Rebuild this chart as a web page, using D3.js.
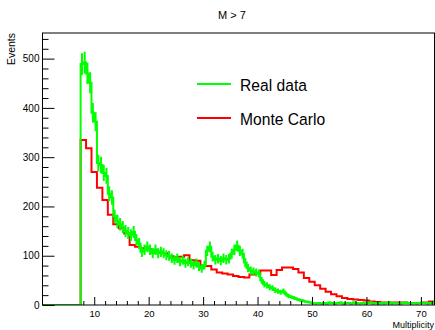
<!DOCTYPE html>
<html>
<head>
<meta charset="utf-8">
<script src="https://cdn.jsdelivr.net/npm/d3@7"></script>
<style>
  html, body { margin: 0; padding: 0; background: #fff; }
  svg { display: block; font-family: "Liberation Sans", Arial, sans-serif; }
</style>
</head>
<body>
<div class="chart-container"></div>
<script>
// Real data: bins of width 0.5 starting at 7.5 (empty below)
const realStart = 7.5;
const realWidth = 0.5;
const realData = [
  489, 492, 470, 451, 390, 372, 288, 284, 268, 262,
  226, 218, 180, 170, 164, 158, 150, 146, 142, 148,
  132, 125, 108, 112, 118, 112, 105, 112, 105, 108,
  105, 101, 100, 95, 91, 95, 88, 91, 85, 88,
  85, 81, 85, 78, 74, 81, 110, 118, 98, 92,
  94, 90, 95, 92, 94, 104, 112, 120, 110, 104,
  86, 75, 70, 68, 66, 64, 50, 42, 40, 36,
  34, 30, 28, 26, 28, 22, 18, 16, 14, 12,
  10, 9, 7, 6, 5, 4, 3, 4, 3, 4,
  3, 5, 4, 3, 4, 5, 3, 4, 4, 3,
  5, 4, 3, 4, 3, 4, 5, 3, 4, 3,
  4, 3, 4, 5, 3, 4, 3, 3, 4, 5,
  4, 3, 4, 3, 4, 5, 4, 3, 4, 5
];

// Monte Carlo: bins of width 1 starting at 7.5
const mcStart = 7.5;
const mcWidth = 1;
const mcData = [
  335, 318, 270, 238, 213, 183, 164, 156, 145, 122,
  118, 115, 113, 112, 108, 105, 99, 97, 98, 101,
  91, 90, 80, 79, 72, 66, 64, 62, 59, 57,
  56, 62, 64, 70, 70, 61, 71, 76, 76, 73,
  66, 55, 47, 40, 33, 27, 22, 18, 14, 12,
  11, 10, 9, 7, 6, 5, 5, 5, 5, 5,
  4, 4, 4, 5, 7
];

const xDomain = [0.5, 72.5];
const yDomain = [0, 552];
const xMajor = [10, 20, 30, 40, 50, 60, 70];
const xMinor = d3.range(8, 73, 2).filter(v => v % 10 !== 0);
const yMajor = [0, 100, 200, 300, 400, 500];
const yMinor = d3.range(20, 552, 20).filter(v => v % 100 !== 0);

const legendItems = [
  { label: "Real data", color: "#00ff00" },
  { label: "Monte Carlo", color: "#ff0000" }
];

const w = 435, h = 330;
const padLeft = 42.5, padRight = 434.5, padTop = 33, padBottom = 305;

const svg = d3.select(".chart-container").append("svg")
  .attr("width", w)
  .attr("height", h);

const x = d3.scaleLinear().domain(xDomain).range([padLeft, padRight]);
const y = d3.scaleLinear().domain(yDomain).range([padBottom, padTop]);

// Title
svg.append("text")
  .attr("x", 232)
  .attr("y", 19)
  .attr("text-anchor", "middle")
  .style("font-size", "11px")
  .text("M > 7");

// Clip for the histograms
svg.append("clipPath").attr("id", "plot-clip")
  .append("rect")
  .attr("x", padLeft).attr("y", padTop)
  .attr("width", padRight - padLeft).attr("height", padBottom - padTop);

// Build a step outline from bins
function stepPoints(values, start, width) {
  const pts = [[xDomain[0], 0], [start, 0]];
  values.forEach((v, i) => {
    const x0 = start + i * width;
    pts.push([x0, v], [x0 + width, v]);
  });
  return pts;
}

const line = d3.line()
  .x(d => x(d[0]))
  .y(d => y(d[1]));

const plot = svg.append("g").attr("clip-path", "url(#plot-clip)");

// Monte Carlo
plot.append("path")
  .attr("d", line(stepPoints(mcData, mcStart, mcWidth)))
  .attr("fill", "none")
  .attr("stroke", "#ff0000")
  .attr("stroke-width", 2);

// Real data with error bars
plot.append("path")
  .attr("d", line(stepPoints(realData, realStart, realWidth)))
  .attr("fill", "none")
  .attr("stroke", "#00ff00")
  .attr("stroke-width", 2);

plot.selectAll(".err")
  .data(realData)
  .enter()
  .append("line")
  .attr("class", "err")
  .attr("x1", (d, i) => x(realStart + (i + 0.5) * realWidth))
  .attr("x2", (d, i) => x(realStart + (i + 0.5) * realWidth))
  .attr("y1", d => y(d - Math.sqrt(d)))
  .attr("y2", d => y(d + Math.sqrt(d)))
  .attr("stroke", "#00ff00")
  .attr("stroke-width", 2);

// Frame
svg.append("rect")
  .attr("x", padLeft).attr("y", padTop)
  .attr("width", padRight - padLeft).attr("height", padBottom - padTop)
  .attr("fill", "none")
  .attr("stroke", "#000")
  .attr("stroke-width", 1);

// X axis
const xAxisG = svg.append("g")
  .attr("transform", `translate(0, ${padBottom})`)
  .call(d3.axisBottom(x).tickValues(xMajor).tickSize(-8).tickPadding(5).tickFormat(d3.format("d")));
svg.append("g")
  .attr("transform", `translate(0, ${padBottom})`)
  .call(d3.axisBottom(x).tickValues(xMinor).tickSize(-4).tickFormat(""));

// Y axis
const yAxisG = svg.append("g")
  .attr("transform", `translate(${padLeft}, 0)`)
  .call(d3.axisLeft(y).tickValues(yMajor).tickSize(-12).tickPadding(3).tickFormat(d3.format("d")));
svg.append("g")
  .attr("transform", `translate(${padLeft}, 0)`)
  .call(d3.axisLeft(y).tickValues(yMinor).tickSize(-6).tickFormat(""));

svg.selectAll(".domain").remove();
svg.selectAll(".tick line").attr("stroke", "#000");
yAxisG.selectAll(".tick text")
  .style("font-family", "'Liberation Sans', Arial, sans-serif")
  .style("font-size", "10px")
  .attr("fill", "#000");
xAxisG.selectAll(".tick text")
  .style("font-family", "'Liberation Sans', Arial, sans-serif")
  .style("font-size", "9.5px")
  .attr("fill", "#000");

// Axis titles
svg.append("text")
  .attr("x", 434)
  .attr("y", 328)
  .attr("text-anchor", "end")
  .style("font-size", "9px")
  .text("Multiplicity");

svg.append("text")
  .attr("transform", "translate(15, 33) rotate(-90)")
  .attr("text-anchor", "end")
  .style("font-size", "10.5px")
  .text("Events");

// Legend
const legend = svg.append("g").attr("transform", "translate(197, 84)");
legendItems.forEach((item, i) => {
  const g = legend.append("g").attr("transform", `translate(0, ${i * 34})`);
  g.append("line")
    .attr("x1", 0).attr("x2", 34)
    .attr("y1", 0).attr("y2", 0)
    .attr("stroke", item.color)
    .attr("stroke-width", 2);
  g.append("text")
    .attr("transform", "translate(43, 7) scale(0.92, 1)")
    .style("font-size", "17px")
    .text(item.label);
});
</script>
</body>
</html>
